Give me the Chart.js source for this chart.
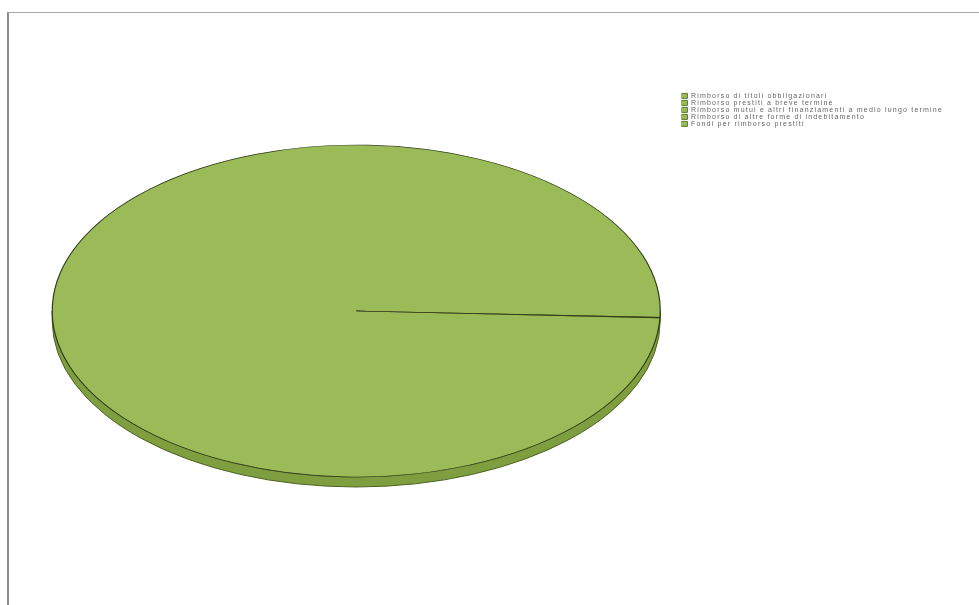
<!DOCTYPE html>
<html>
<head>
<meta charset="utf-8">
<script src="https://cdn.jsdelivr.net/npm/chart.js@4"></script>
<style>
  html, body { margin: 0; padding: 0; background: #fff; }
  #wrap { position: relative; width: 979px; height: 605px; overflow: hidden; }
  #frame { position: absolute; left: 7px; top: 12px; right: -5px; bottom: -5px;
           border-top: 1px solid #a8a8a8; border-left: 2px solid #8c8c8c; }
  canvas { position: absolute; left: 0; top: 0; }
</style>
</head>
<body>
<div id="wrap">
  <div id="frame"></div>
  <canvas id="pie" width="979" height="605"></canvas>
</div>
<script>
// Categories and values (quote di spesa per rimborso prestiti)
const categories = [
    'Rimborso di titoli obbligazionari',
    'Rimborso prestiti a breve termine',
    'Rimborso mutui e altri finanziamenti a medio lungo termine',
    'Rimborso di altre forme di indebitamento',
    'Fondi per rimborso prestiti'
];
const values = [0, 0, 99.95, 0, 0.05];
const sliceColors = ['#9bbb59', '#9bbb59', '#9bbb59', '#9bbb59', '#9bbb59'];

const FLAT = 166 / 304;   // vertical squash of the pie
const DEPTH = 10;         // thickness of the 3D edge

// Draw the pie as a tilted disc: side first, then the squashed top face
const tiltPlugin = {
    id: 'tilt',
    beforeDatasetsDraw(chart) {
        const ctx = chart.ctx;
        const arc = chart.getDatasetMeta(0).data[2];
        const { x, y, outerRadius } = arc.getProps(['x', 'y', 'outerRadius'], true);
        const r = outerRadius;

        ctx.save();
        ctx.translate(x, y);
        ctx.scale(1, FLAT);
        ctx.beginPath();
        ctx.arc(0, DEPTH / FLAT, r, 0, Math.PI);
        ctx.lineTo(-r, 0);
        ctx.arc(0, 0, r, Math.PI, 0, true);
        ctx.closePath();
        ctx.restore();
        ctx.fillStyle = '#7f9e3f';
        ctx.fill();
        ctx.strokeStyle = '#4d6322';
        ctx.lineWidth = 1;
        ctx.stroke();

        ctx.save();
        ctx.translate(x, y);
        ctx.scale(1, FLAT);
        ctx.translate(-x, -y);
    },
    afterDatasetsDraw(chart) {
        chart.ctx.restore();
    }
};

// the legend text in the original is widely spaced
const spacingPlugin = {
    id: 'legendSpacing',
    beforeLayout(chart) { chart.ctx.letterSpacing = '1.2px'; },
    beforeDraw(chart) { chart.ctx.letterSpacing = '1.2px'; }
};

new Chart(document.getElementById('pie'), {
    type: 'pie',
    data: {
        labels: categories,
        datasets: [{
            data: values,
            backgroundColor: sliceColors,
            borderColor: '#2f3b17',
            borderWidth: 1.2,
            radius: 304,
            clip: false
        }]
    },
    options: {
        responsive: false,
        animation: false,
        rotation: 92.4,
        layout: {
            padding: { left: 31, right: 26, top: 17, bottom: 0 }
        },
        plugins: {
            legend: {
                position: 'right',
                align: 'start',
                title: {
                    display: true,
                    text: '',
                    font: { size: 7 },
                    padding: { top: 67, bottom: 0 }
                },
                labels: {
                    boxWidth: 6,
                    boxHeight: 5,
                    padding: 0,
                    color: '#2b2b2b',
                    font: { family: 'Liberation Sans, Arial, sans-serif', size: 7 },
                    generateLabels(chart) {
                        return chart.data.labels.map((label, i) => ({
                            text: label,
                            fillStyle: sliceColors[i],
                            strokeStyle: '#5d7a2a',
                            lineWidth: 1,
                            hidden: false,
                            index: i
                        }));
                    }
                }
            },
            tooltip: { enabled: false }
        }
    },
    plugins: [tiltPlugin, spacingPlugin]
});
</script>
</body>
</html>
